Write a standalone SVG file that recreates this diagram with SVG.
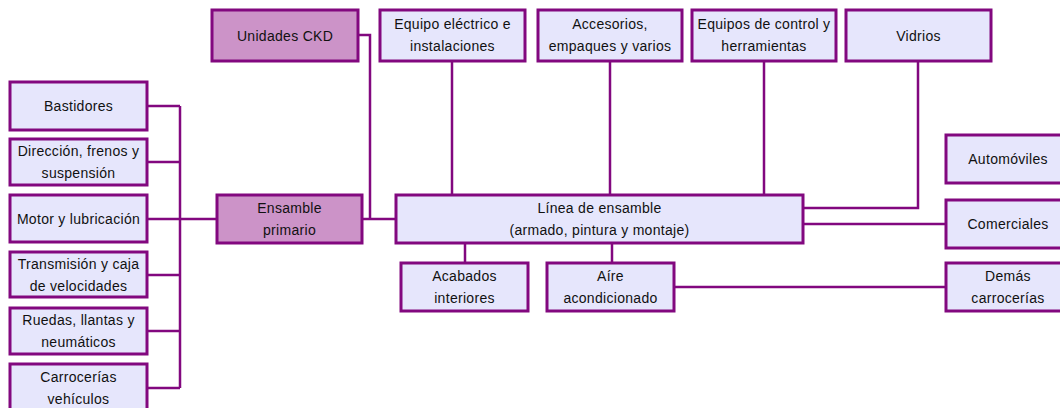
<svg xmlns="http://www.w3.org/2000/svg" width="1060" height="408" viewBox="0 0 1060 408">
<style>
.b{fill:#E6E6FC;stroke:#82087F;stroke-width:3}
.p{fill:#CC93C8;stroke:#82087F;stroke-width:3}
.c{fill:none;stroke:#82087F;stroke-width:2.5}
text{font-family:"Liberation Sans",Arial,sans-serif;font-size:14px;fill:#111;text-anchor:middle;letter-spacing:0.3px}
</style>
<rect width="1060" height="408" fill="#fff"/>
<g id="connectors">
<path class="c" d="M147,106H180M147,162H180M147,219H180M147,275H180M147,331H180M147,388H180M180,106V388M180,219H217"/>
<path class="c" d="M358,35H370V219M362,219H396"/>
<path class="c" d="M452,61V195M610,61V195M764,61V195"/>
<path class="c" d="M918,61V208H803M803,224H946"/>
<path class="c" d="M465,243V263M612,243V263M674,287H946"/>
</g>
<g id="ckd"><rect class="p" x="212" y="10" width="146" height="51"/><text x="285" y="40.5">Unidades CKD</text></g>
<g id="electrico"><rect class="b" x="380" y="10" width="145" height="51"/><text x="452.5" y="29">Equipo eléctrico e</text><text x="452.5" y="51">instalaciones</text></g>
<g id="accesorios"><rect class="b" x="538" y="10" width="144" height="51"/><text x="610" y="29">Accesorios,</text><text x="610" y="51">empaques y varios</text></g>
<g id="control"><rect class="b" x="692" y="10" width="144" height="51"/><text x="764" y="29">Equipos de control y</text><text x="764" y="51">herramientas</text></g>
<g id="vidrios"><rect class="b" x="846" y="10" width="145" height="51"/><text x="918.5" y="40.5">Vidrios</text></g>
<g id="bastidores"><rect class="b" x="10" y="82" width="137" height="48"/><text x="78.5" y="111">Bastidores</text></g>
<g id="direccion"><rect class="b" x="10" y="139" width="137" height="46"/><text x="78.5" y="156">Dirección, frenos y</text><text x="78.5" y="178">suspensión</text></g>
<g id="motor"><rect class="b" x="10" y="195" width="137" height="47"/><text x="78.5" y="223.5">Motor y lubricación</text></g>
<g id="transmision"><rect class="b" x="10" y="252" width="137" height="45"/><text x="78.5" y="268.5">Transmisión y caja</text><text x="78.5" y="290.5">de velocidades</text></g>
<g id="ruedas"><rect class="b" x="10" y="308" width="137" height="46"/><text x="78.5" y="325">Ruedas, llantas y</text><text x="78.5" y="347">neumáticos</text></g>
<g id="carrocerias"><rect class="b" x="10" y="364" width="137" height="48"/><text x="78.5" y="382">Carrocerías</text><text x="78.5" y="404">vehículos</text></g>
<g id="ensamble-primario"><rect class="p" x="217" y="195" width="145" height="48"/><text x="289.5" y="213">Ensamble</text><text x="289.5" y="235">primario</text></g>
<g id="linea"><rect class="b" x="396" y="195" width="407" height="48"/><text x="599.5" y="213">Línea de ensamble</text><text x="599.5" y="235">(armado, pintura y montaje)</text></g>
<g id="acabados"><rect class="b" x="401" y="263" width="127" height="48"/><text x="464.5" y="281">Acabados</text><text x="464.5" y="303">interiores</text></g>
<g id="aire"><rect class="b" x="547" y="263" width="127" height="48"/><text x="610.5" y="281">Aíre</text><text x="610.5" y="303">acondicionado</text></g>
<g id="automoviles"><rect class="b" x="946" y="135" width="124" height="48"/><text x="1008" y="164">Automóviles</text></g>
<g id="comerciales"><rect class="b" x="946" y="200" width="124" height="48"/><text x="1008" y="229">Comerciales</text></g>
<g id="demas"><rect class="b" x="946" y="263" width="124" height="48"/><text x="1008" y="281">Demás</text><text x="1008" y="303">carrocerías</text></g>
</svg>
